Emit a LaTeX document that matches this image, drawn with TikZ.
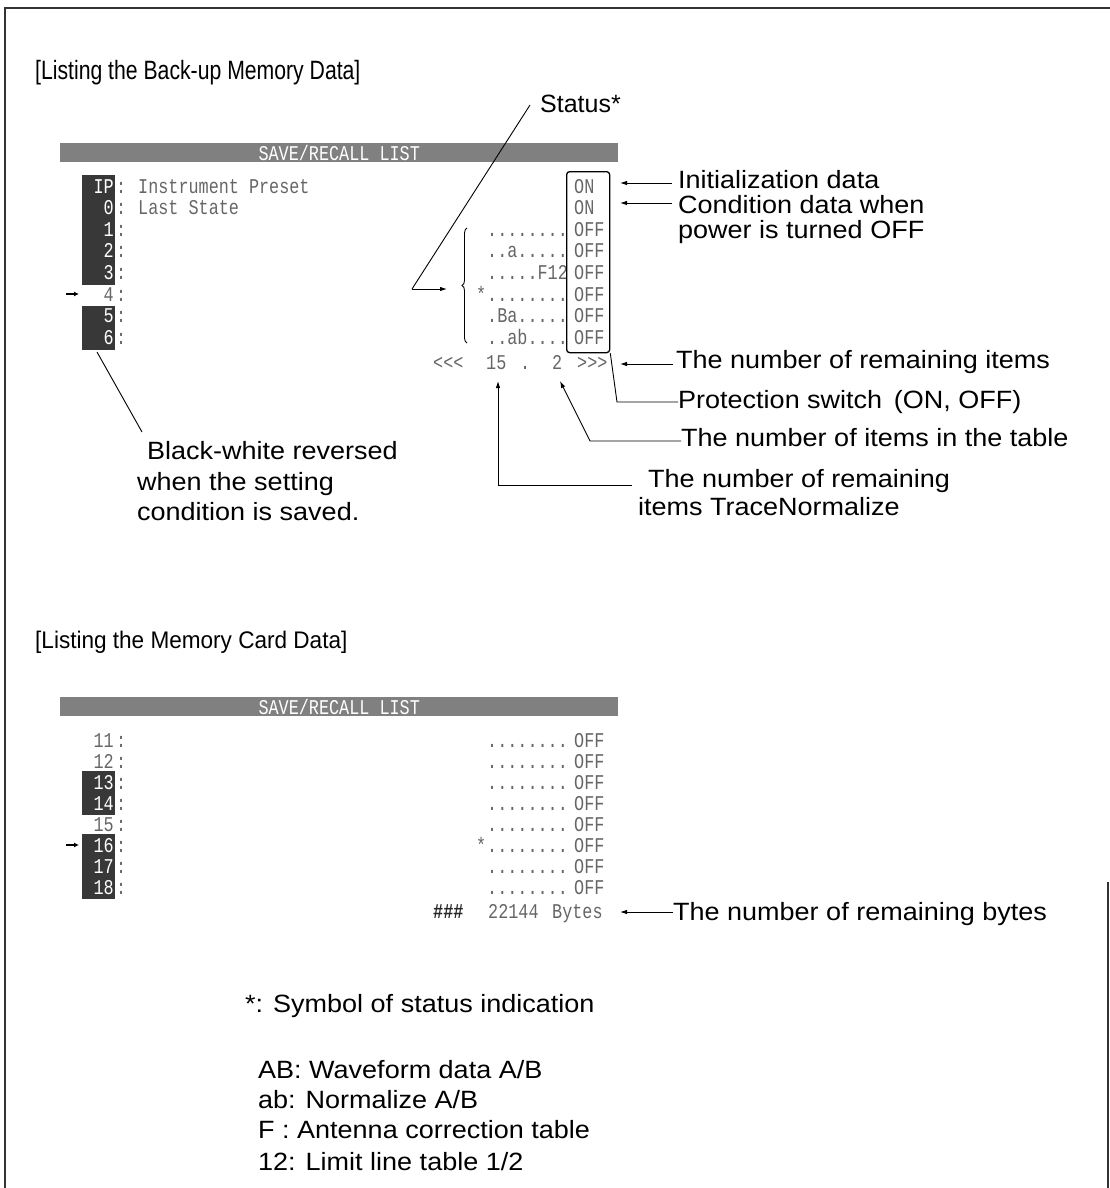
\documentclass[tikz,border=0pt]{standalone}
\usepackage{fontspec}
\setmainfont{Liberation Sans}
\newfontfamily\annfont[FakeStretch=1.08]{Liberation Sans}
\newfontfamily\ttlfont[FakeStretch=0.8]{Liberation Sans}
\newfontfamily\ttlbfont[FakeStretch=0.94]{Liberation Sans}
\newfontfamily\scrfont[FakeStretch=0.8]{Liberation Mono}
\usetikzlibrary{arrows.meta,decorations.pathreplacing}
\begin{document}
\begin{tikzpicture}[x=1pt,y=-1pt,
  ann/.style={font=\annfont\fontsize{25}{30}\selectfont, anchor=base west, inner sep=0pt},
  ttl/.style={font=\ttlfont\fontsize{26.5}{30}\selectfont, anchor=base west, inner sep=0pt},
  scr/.style={font=\scrfont\fontsize{21}{24}\selectfont, text=black!60, anchor=base west, inner sep=0pt},
  scrl/.style={scr, anchor=base east},
  scrw/.style={scr, anchor=base east, text=white},
  darkbox/.style={fill=black!78, draw=none, inner sep=0pt, anchor=north west},
  barbox/.style={fill=black!50, draw=none, inner sep=0pt, anchor=north west, minimum width=558pt, minimum height=19pt},
  ptr/.style={line width=0.9pt},
  arr/.style={ptr, -{Latex[length=7pt,width=4.5pt]}},
  rowmark/.style={line width=1.2pt, -{Latex[length=5pt,width=5pt]}},
  frame/.style={line width=1.3pt, black!80}]
\useasboundingbox (0,0) rectangle (1110,1188);
% frame
\coordinate (ftl) at (5,8); \coordinate (ftr) at (1110,8); \coordinate (fbl) at (5,1188);
\coordinate (frt) at (1108,882); \coordinate (frb) at (1108,1188);
\draw[frame] (ftr) -- (ftl) -- (fbl);
\draw[frame] (frt) -- (frb);

% ===== Back-up memory section =====
\node[ttl] (title1) at (35,80) {[Listing the Back-up Memory Data]};
\node[ann, font=\fontsize{25}{30}\selectfont] (status) at (540,113) {Status*};

\node[barbox] (bar1) at (60,143) {};
\node[scr, anchor=center, text=white] (bar1t) at (bar1.center) {SAVE/RECALL LIST};

% dark boxes
\node[darkbox, minimum width=33pt, minimum height=110pt] (dbA) at (82,175) {};
\node[darkbox, minimum width=33pt, minimum height=44pt] (dbB) at (82,306) {};

% left labels
\foreach \y/\t/\s in {186/IP/scrw, 207.6/0/scrw, 229.2/1/scrw, 250.8/2/scrw, 272.4/3/scrw, 294/4/scrl, 315.6/5/scrw, 337.2/6/scrw}{
  \node[\s] (l\t) at (114,\y+7) {\t};
  \node[scr] (c\t) at (116,\y+7) {:};
}
\node[scr] (ip) at (138,193) {Instrument Preset};
\node[scr] (ls) at (138,214.6) {Last State};
\coordinate (mk1a) at (66,294); \coordinate (mk1b) at (79,294);
\draw[rowmark] (mk1a) -- (mk1b);

% status dots
\node[scr] (d2) at (487,236.2) {........};
\node[scr] (d3) at (487,257.8) {..a.....};
\node[scr] (d4) at (487,279.4) {.....F12};
\node[scr] (d5s) at (476,301) {*};
\node[scr] (d5) at (487,301) {........};
\node[scr] (d6) at (487,322.6) {.Ba.....};
\node[scr] (d7) at (487,344.2) {..ab....};

% ON / OFF column
\node[draw, line width=1.3pt, rounded corners=3pt, minimum width=43pt, minimum height=181pt, inner sep=0pt, anchor=north west] (onbox) at (566,171) {};
\node[scr] (s0) at (574,193) {ON};
\node[scr] (s1) at (574,214.6) {ON};
\node[scr] (s2) at (574,236.2) {OFF};
\node[scr] (s3) at (574,257.8) {OFF};
\node[scr] (s4) at (574,279.4) {OFF};
\node[scr] (s5) at (574,301) {OFF};
\node[scr] (s6) at (574,322.6) {OFF};
\node[scr] (s7) at (574,344.2) {OFF};

% count row
\node[scr] (lt) at (433,369) {<<<};
\node[scr] (n15) at (486,369) {15};
\node[scr] (dot) at (520,369) {.};
\node[scr] (n2) at (552,369) {2};
\node[scr] (gt) at (577,369) {>>>};

% brace + status pointer
\draw[ptr, decorate, decoration={brace, amplitude=5pt}] (467,343) -- (467,228);
\coordinate (sttop) at (530,105);
\coordinate (stcorner) at (412,289);
\coordinate (bracetip) at (447,289);
\draw[ptr] (sttop) -- (stcorner);
\draw[arr] (stcorner) -- (bracetip);

% right annotations
\node[ann] (init) at (678,188) {Initialization data};
\node[ann] (cond1) at (678,213) {Condition data when};
\node[ann] (cond2) at (678,238.5) {power is turned OFF};
\coordinate (a1s) at (672,183); \coordinate (a1e) at (620,183);
\coordinate (a2s) at (672,203); \coordinate (a2e) at (620,203);
\draw[arr] (a1s) -- (a1e);
\draw[arr] (a2s) -- (a2e);

\node[ann] (remit) at (676,368) {The number of remaining items};
\coordinate (a3s) at (673,364); \coordinate (a3e) at (620,364);
\draw[arr] (a3s) -- (a3e);

\node[ann] (prot) at (678,408) {Protection switch\, (ON, OFF)};
\coordinate (pbend) at (617,402);
\draw[ptr] (onbox.south east) -- (pbend) -- (prot.west |- pbend);

\node[ann] (intab) at (681,446) {The number of items in the table};
\coordinate (tbend) at (590,441);
\coordinate (ttip) at (560,381);
\draw[arr] (intab.west |- tbend) -- (tbend) -- (ttip);

\node[ann] (remtn1) at (648,487) {The number of remaining};
\node[ann] (remtn2) at (638,515) {items TraceNormalize};
\coordinate (rbend) at (498,485);
\coordinate (rtip) at (498,381);
\coordinate (rend) at (632,485);
\draw[arr] (rend) -- (rbend) -- (rtip);

% black-white note
\coordinate (bwa) at (97,352); \coordinate (bwb) at (142,432);
\draw[ptr] (bwa) -- (bwb);
\node[ann] (bw1) at (147,459) {Black-white reversed};
\node[ann] (bw2) at (137,490) {when the setting};
\node[ann] (bw3) at (137,520) {condition is saved.};

% ===== Memory card section =====
\node[ann, font=\ttlbfont\fontsize{24}{30}\selectfont] (title2) at (35,648) {[Listing the Memory Card Data]};
\node[barbox] (bar2) at (60,697) {};
\node[scr, anchor=center, text=white] (bar2t) at (bar2.center) {SAVE/RECALL LIST};

\node[darkbox, minimum width=33pt, minimum height=44pt] (dbC) at (82,771) {};
\node[darkbox, minimum width=33pt, minimum height=65pt] (dbD) at (82,834) {};

\foreach \y/\t/\s in {740/11/scrl, 761/12/scrl, 782/13/scrw, 803/14/scrw, 824/15/scrl, 845/16/scrw, 866/17/scrw, 887/18/scrw}{
  \node[\s] (m\t) at (114,\y+7) {\t};
  \node[scr] (mc\t) at (116,\y+7) {:};
  \node[scr] (md\t) at (487,\y+7) {........};
  \node[scr] (mo\t) at (574,\y+7) {OFF};
}
\node[scr] (md16s) at (476,852) {*};
\coordinate (mk2a) at (66,845); \coordinate (mk2b) at (79,845);
\draw[rowmark] (mk2a) -- (mk2b);

\node[scr, text=black!85, font=\scrfont\bfseries\fontsize{21}{24}\selectfont] (hash) at (433,918) {\#\#\#};
\node[scr] (bytesn) at (488,918) {22144};
\node[scr] (bytesw) at (552,918) {Bytes};
\node[ann] (rbytes) at (673,920) {The number of remaining bytes};
\coordinate (a4e) at (620,912);
\draw[arr] (rbytes.west |- a4e) -- (a4e);

% ===== footnote =====
\node[ann] (fn0) at (245,1012) {*: Symbol of status indication};
\node[ann] (fn1) at (258,1078) {AB: Waveform data A/B};
\node[ann] (fn2) at (258,1108) {ab: Normalize A/B};
\node[ann] (fn3) at (258,1138) {F : Antenna correction table};
\node[ann] (fn4) at (258,1170) {12: Limit line table 1/2};
\end{tikzpicture}
\end{document}
